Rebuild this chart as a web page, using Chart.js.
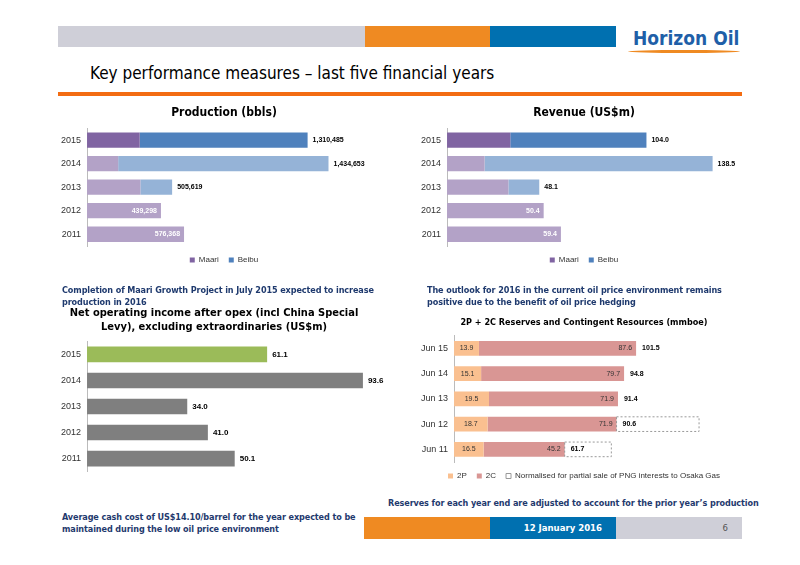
<!DOCTYPE html>
<html><head><meta charset="utf-8">
<script src="https://cdn.jsdelivr.net/npm/chart.js@4"></script>
<style>
body{margin:0;width:800px;height:565px;position:relative;background:#fff;font-family:"DejaVu Sans Condensed","Liberation Sans",Arial,sans-serif;overflow:hidden}
.a{position:absolute}
.cap{position:absolute;color:#1f3a6e;font-weight:bold;font-size:9px;line-height:12px;font-family:"DejaVu Sans Condensed",Arial;letter-spacing:-0.1px}
canvas{display:block}
</style></head><body>
<div class="a" style="left:58px;top:26px;width:307px;height:21px;background:#cfcfd8"></div>
<div class="a" style="left:365px;top:26px;width:125px;height:21px;background:#ef8a22"></div>
<div class="a" style="left:490px;top:26px;width:126px;height:21px;background:#0070b0"></div>
<div class="a" style="left:633px;top:27px;font-size:19px;font-weight:bold;color:#1f5fa8;font-family:'DejaVu Sans Condensed',Arial">Horizon Oil</div>
<div class="a" style="left:628px;top:50px;width:112px;height:3px;background:#ef8a22;border-radius:50%"></div>
<div class="a" style="left:90px;top:63px;font-size:17px;color:#000">Key performance measures – last five financial years</div>
<div class="a" style="left:58px;top:92px;width:684px;height:4px;background:#f36c12"></div>

<div class="a" style="left:50px;top:104px;width:340px;height:170px"><canvas id="prod"></canvas></div>
<div class="a" style="left:410px;top:104px;width:340px;height:170px"><canvas id="rev"></canvas></div>
<div class="a" style="left:50px;top:305px;width:340px;height:175px"><canvas id="noi"></canvas></div>
<div class="a" style="left:410px;top:315px;width:340px;height:175px"><canvas id="res"></canvas></div>

<div class="cap" style="left:62px;top:284px;width:340px">Completion of Maari Growth Project in July 2015 expected to increase production in 2016</div>
<div class="cap" style="left:427px;top:284px;width:330px">The outlook for 2016 in the current oil price environment remains positive due to the benefit of oil price hedging</div>
<div class="cap" style="left:62px;top:511px;width:340px">Average cash cost of US$14.10/barrel for the year expected to be maintained during the low oil price environment</div>
<div class="cap" style="left:388px;top:497px;width:380px">Reserves for each year end are adjusted to account for the prior year’s production</div>

<div class="a" style="left:364px;top:517px;width:126px;height:22px;background:#ef8a22"></div>
<div class="a" style="left:490px;top:517px;width:126px;height:22px;background:#0070b0;color:#fff;font-size:9.5px;font-weight:bold;line-height:22px;text-align:right;box-sizing:border-box;padding-right:14px">12 January 2016</div>
<div class="a" style="left:616px;top:517px;width:126px;height:22px;background:#cfcfd8;color:#555;font-size:9.5px;line-height:22px;text-align:right;box-sizing:border-box;padding-right:14px">6</div>
<script>
const years = ['2015','2014','2013','2012','2011'];
const prodMaari = [313000, 185000, 317000, 439298, 576368];
const prodBeibu = [997485, 1249653, 188619, 0, 0];
const prodLabels = ['1,310,485','1,434,653','505,619','439,298','576,368'];
const revMaari = [33.0, 19.6, 32.0, 50.4, 59.4];
const revBeibu = [71.0, 118.9, 16.1, 0, 0];
const revLabels = ['104.0','138.5','48.1','50.4','59.4'];
const noiValues = [61.1, 93.6, 34.0, 41.0, 50.1];
const resYears = ['Jun 15','Jun 14','Jun 13','Jun 12','Jun 11'];
const res2P = [13.9, 15.1, 19.5, 18.7, 16.5];
const res2C = [87.6, 79.7, 71.9, 71.9, 45.2];
const resNorm = [0, 0, 0, 46, 26];

const F = "'Liberation Sans', Arial, sans-serif";
const FC = "'DejaVu Sans Condensed', Arial, sans-serif";
Chart.defaults.font.family = F;
Chart.defaults.animation = false;
Chart.defaults.maintainAspectRatio = false;

// labels drawn by a per-chart callback
const labelPlugin = {
  id: 'lbl',
  afterDatasetsDraw(chart, args, o) {
    if (!o.draw) return;
    const ctx = chart.ctx;
    ctx.save();
    ctx.textBaseline = 'middle';
    o.draw(chart, ctx);
    ctx.restore();
  }
};
Chart.register(labelPlugin);

function barEnd(chart, ds, i) { return chart.getDatasetMeta(ds).data[i]; }

function legendItems(chart) {
  const items = Chart.defaults.plugins.legend.labels.generateLabels(chart);
  items.forEach(it => {
    if (it.text.startsWith('Normalised')) { it.strokeStyle = '#999'; it.lineWidth = 1; it.fillStyle = '#fff'; }
    else it.lineWidth = 0;
  });
  return items;
}

function hbar(ds, opts) {
  return {
    type: 'bar',
    data: { labels: opts.labels, datasets: ds },
    options: {
      indexAxis: 'y',
      responsive: true,
      layout: { padding: opts.padding || 0 },
      scales: {
        x: { stacked: true, display: false, min: 0, max: opts.max },
        y: { stacked: true, grid: { display: false, drawTicks: true, tickLength: 3 }, border: { color: '#bbb' },
             ticks: { color: '#333', font: { size: 9 } } }
      },
      plugins: {
        title: { display: true, text: opts.title, color: '#000', font: { size: opts.tsize || 12, weight: 'bold', family: FC }, padding: { top: 2, bottom: 8 } },
        legend: { display: opts.legend !== false, position: 'bottom', labels: { boxWidth: 5, boxHeight: 5, font: { size: 8 }, color: '#333', generateLabels: legendItems } },
        tooltip: { enabled: false },
        lbl: { draw: opts.draw }
      }
    }
  };
}

const lightM = '#b3a2c7', darkM = '#8064a2', lightB = '#95b3d7', darkB = '#4f81bd';

function stackedLabels(texts, insideFrom) {
  return (chart, ctx) => {
    ctx.font = 'bold 7px ' + F;
    texts.forEach((t, i) => {
      const top = chart.getDatasetMeta(1).data[i];
      const base = chart.getDatasetMeta(0).data[i];
      const end = Math.max(top.x, base.x);
      if (i >= insideFrom) { ctx.fillStyle = '#fff'; ctx.textAlign = 'right'; ctx.fillText(t, end - 4, base.y); }
      else { ctx.fillStyle = '#000'; ctx.textAlign = 'left'; ctx.fillText(t, end + 5, base.y); }
    });
  };
}

new Chart(document.getElementById('prod'), hbar([
  { label: 'Maari', data: prodMaari, backgroundColor: [darkM, lightM, lightM, lightM, lightM], barPercentage: 0.65, categoryPercentage: 1 },
  { label: 'Beibu', data: prodBeibu, backgroundColor: [darkB, lightB, lightB, lightB, lightB], barPercentage: 0.65, categoryPercentage: 1 }
], { labels: years, max: 1800000, title: 'Production (bbls)', padding: { left: 8 }, draw: stackedLabels(prodLabels, 3) }));

new Chart(document.getElementById('rev'), hbar([
  { label: 'Maari', data: revMaari, backgroundColor: [darkM, lightM, lightM, lightM, lightM], barPercentage: 0.65, categoryPercentage: 1 },
  { label: 'Beibu', data: revBeibu, backgroundColor: [darkB, lightB, lightB, lightB, lightB], barPercentage: 0.65, categoryPercentage: 1 }
], { labels: years, max: 158, title: 'Revenue (US$m)', padding: { left: 8 }, draw: stackedLabels(revLabels, 3) }));

new Chart(document.getElementById('noi'), hbar([
  { label: 'NOI', data: noiValues, backgroundColor: ['#9bbb59', '#7f7f7f', '#7f7f7f', '#7f7f7f', '#7f7f7f'], barPercentage: 0.6, categoryPercentage: 1 }
], { labels: years, max: 96, legend: false, tsize: 11, padding: { left: 8, right: 20, bottom: 4 },
     title: ['Net operating income after opex (incl China Special', 'Levy), excluding extraordinaries (US$m)'],
     draw: (chart, ctx) => {
       ctx.font = 'bold 8px ' + F; ctx.fillStyle = '#000'; ctx.textAlign = 'left';
       noiValues.forEach((v, i) => { const b = barEnd(chart, 0, i); ctx.fillText(v.toFixed(1), b.x + 5, b.y); });
     } }));

new Chart(document.getElementById('res'), hbar([
  { label: '2P', data: res2P, backgroundColor: '#fac090', barPercentage: 0.58, categoryPercentage: 1 },
  { label: '2C', data: res2C, backgroundColor: '#d99694', barPercentage: 0.58, categoryPercentage: 1 },
  { label: 'Normalised for partial sale of PNG interests to Osaka Gas', data: resNorm, backgroundColor: 'rgba(255,255,255,0)', borderWidth: 0, barPercentage: 0.58, categoryPercentage: 1 }
], { labels: resYears, max: 165, tsize: 9, padding: { left: 8 }, title: '2P + 2C Reserves and Contingent Resources (mmboe)',
     draw: (chart, ctx) => {
       const nm = chart.getDatasetMeta(2).data;
       ctx.strokeStyle = '#999'; ctx.lineWidth = 1; ctx.setLineDash([2, 2]);
       resNorm.forEach((v, i) => {
         if (!v) return;
         const e = nm[i];
         ctx.strokeRect(e.base, e.y - e.height / 2, e.x - e.base, e.height);
       });
       ctx.setLineDash([]);
       ctx.font = '7px ' + F;
       resYears.forEach((y, i) => {
         const a = barEnd(chart, 0, i), b = barEnd(chart, 1, i);
         ctx.fillStyle = '#333'; ctx.textAlign = 'center'; ctx.fillText(res2P[i].toFixed(1), (a.base + a.x) / 2, a.y);
         ctx.textAlign = 'right'; ctx.fillText(res2C[i].toFixed(1), b.x - 4, b.y);
         ctx.fillStyle = '#000'; ctx.font = 'bold 7px ' + F; ctx.textAlign = 'left';
         ctx.fillText((res2P[i] + res2C[i]).toFixed(1), b.x + 6, b.y);
         ctx.font = '7px ' + F;
       });
     } }));
</script>
</body></html>
